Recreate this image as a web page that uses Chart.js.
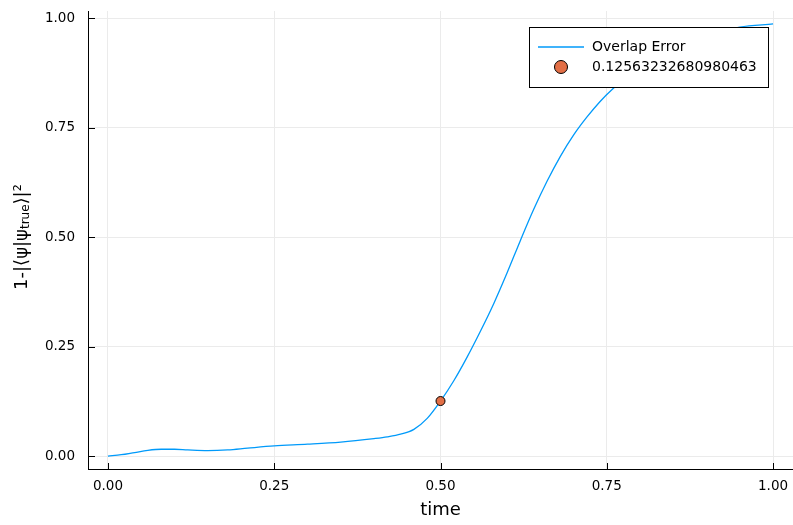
<!DOCTYPE html>
<html>
<head>
<meta charset="utf-8">
<script src="https://cdn.jsdelivr.net/npm/chart.js@4"></script>
<style>
  body { margin: 0; background: #fff; }
  #wrap { width: 793px; height: 525px; }
</style>
</head>
<body>
<div id="wrap"><canvas id="errchart" width="793" height="525"></canvas></div>
<script>
const times  = [0, 0.02, 0.04, 0.06, 0.08, 0.10, 0.12, 0.15, 0.18, 0.21, 0.25, 0.30, 0.35, 0.40, 0.42, 0.44,
                0.46, 0.48, 0.50, 0.52, 0.54, 0.56, 0.58, 0.60, 0.62, 0.64, 0.66, 0.68, 0.70, 0.72, 0.74,
                0.76, 0.78, 0.80, 0.85, 0.90, 0.95, 1.00];
const errors = [0, 0.003, 0.008, 0.013, 0.0155, 0.0155, 0.014, 0.0125, 0.014, 0.018, 0.023, 0.027, 0.032, 0.040, 0.044, 0.050,
                0.061, 0.086, 0.1256, 0.172, 0.226, 0.285, 0.348, 0.418, 0.492, 0.563, 0.627, 0.684, 0.733, 0.774, 0.810,
                0.840, 0.866, 0.889, 0.933, 0.962, 0.980, 0.987];

// highlighted point
const markerTime = 0.5;
const markerValue = 0.12563232680980463;

const xTicks = [0, 0.25, 0.5, 0.75, 1.0];
const yTicks = [0, 0.25, 0.5, 0.75, 1.0];

const seriesLabels = ['Overlap Error', String(markerValue)];

const FONT = 'DejaVu Sans';

function fixedTicks(values) {
    return function(scale) {
        scale.ticks = values.map(v => ({ value: v }));
    };
}

// small tick marks pointing into the plot area
const innerTicks = {
    id: 'innerTicks',
    beforeDatasetsDraw(chart) {
        let ctx = chart.ctx, x = chart.scales.x, y = chart.scales.y;
        let area = chart.chartArea;
        ctx.save();
        ctx.strokeStyle = '#000';
        ctx.lineWidth = 1;
        ctx.beginPath();
        xTicks.forEach(v => {
            let px = Math.round(x.getPixelForValue(v)) + 0.5;
            ctx.moveTo(px, area.bottom);
            ctx.lineTo(px, area.bottom - 6);
        });
        yTicks.forEach(v => {
            let py = Math.round(y.getPixelForValue(v)) + 0.5;
            ctx.moveTo(area.left, py);
            ctx.lineTo(area.left + 7, py);
        });
        ctx.stroke();
        ctx.restore();
    }
};

// legend box in the top right corner of the plot
const boxLegend = {
    id: 'boxLegend',
    afterDraw(chart) {
        let ctx = chart.ctx;
        let ds = chart.data.datasets;
        let bx = 529.5, by = 27.5, bw = 239, bh = 60;
        ctx.save();
        ctx.fillStyle = '#fff';
        ctx.fillRect(bx, by, bw, bh);
        ctx.strokeStyle = '#000';
        ctx.lineWidth = 1;
        ctx.strokeRect(bx, by, bw, bh);

        // line entry
        ctx.strokeStyle = ds[0].borderColor;
        ctx.lineWidth = 1.3;
        ctx.beginPath();
        ctx.moveTo(538, 47);
        ctx.lineTo(584, 47);
        ctx.stroke();

        // marker entry
        ctx.beginPath();
        ctx.arc(561, 67, 6.5, 0, Math.PI * 2);
        ctx.fillStyle = ds[1].backgroundColor;
        ctx.fill();
        ctx.strokeStyle = '#000';
        ctx.lineWidth = 1;
        ctx.stroke();

        ctx.fillStyle = '#000';
        ctx.font = '14px "' + FONT + '"';
        ctx.textAlign = 'left';
        ctx.textBaseline = 'middle';
        ctx.fillText(ds[0].label, 592, 47);
        ctx.fillText(ds[1].label, 592, 67);
        ctx.restore();
    }
};

// rotated y-axis title with a subscript
const yTitle = {
    id: 'yTitle',
    afterDraw(chart) {
        let ctx = chart.ctx;
        let parts = [
            { t: '1-|\u27E8\u03C8|\u03C8', size: 18, dy: 0 },
            { t: 'true', size: 12, dy: 4 },
            { t: '\u27E9|\u00B2', size: 18, dy: 0 }
        ];
        ctx.save();
        let total = 0;
        parts.forEach(p => {
            ctx.font = p.size + 'px "' + FONT + '"';
            p.w = ctx.measureText(p.t).width;
            total += p.w;
        });
        ctx.translate(22, 237);
        ctx.rotate(-Math.PI / 2);
        ctx.fillStyle = '#000';
        ctx.textBaseline = 'middle';
        ctx.textAlign = 'left';
        let cx = -total / 2;
        parts.forEach(p => {
            ctx.font = p.size + 'px "' + FONT + '"';
            ctx.fillText(p.t, cx, p.dy);
            cx += p.w;
        });
        ctx.restore();
    }
};

let ctx = document.getElementById('errchart').getContext('2d');
new Chart(ctx, {
    type: 'line',
    data: {
        datasets: [{
            label: seriesLabels[0],
            data: times.map((t, i) => ({ x: t, y: errors[i] })),
            borderColor: '#009AFA',
            backgroundColor: '#009AFA',
            borderWidth: 1.3,
            pointRadius: 0,
            cubicInterpolationMode: 'monotone',
            order: 2
        }, {
            type: 'scatter',
            label: seriesLabels[1],
            data: [{ x: markerTime, y: markerValue }],
            backgroundColor: '#E26F46',
            borderColor: '#000',
            borderWidth: 1,
            pointRadius: 4.5,
            order: 1
        }]
    },
    options: {
        responsive: false,
        animation: false,
        layout: { autoPadding: false, padding: { top: 11, right: 0, left: 0, bottom: 0 } },
        plugins: {
            legend: { display: false },
            tooltip: { enabled: false }
        },
        scales: {
            x: {
                type: 'linear',
                min: -0.03,
                max: 1.03,
                afterBuildTicks: fixedTicks(xTicks),
                afterFit: function(s) {
                    s.height = 56;
                    s.paddingLeft = 0;
                    s.paddingRight = 0;
                },
                grid: { color: '#ebebeb', lineWidth: 1, drawTicks: false },
                border: { color: '#000', width: 1 },
                ticks: {
                    padding: 9,
                    color: '#000',
                    font: { family: FONT, size: 13.5 },
                    callback: v => v.toFixed(2)
                },
                title: {
                    display: true,
                    text: 'time',
                    color: '#000',
                    font: { family: FONT, size: 18 },
                    padding: { top: 0, bottom: 4 }
                }
            },
            y: {
                min: -0.0296,
                max: 1.0166,
                afterBuildTicks: fixedTicks(yTicks),
                afterFit: function(s) {
                    s.width = 88;
                    s.paddingTop = 0;
                    s.paddingBottom = 0;
                },
                grid: { color: '#ebebeb', lineWidth: 1, drawTicks: false },
                border: { color: '#000', width: 1 },
                ticks: {
                    padding: 13,
                    color: '#000',
                    font: { family: FONT, size: 13.5 },
                    callback: v => v.toFixed(2)
                }
            }
        }
    },
    plugins: [innerTicks, yTitle, boxLegend]
});
</script>
</body>
</html>
